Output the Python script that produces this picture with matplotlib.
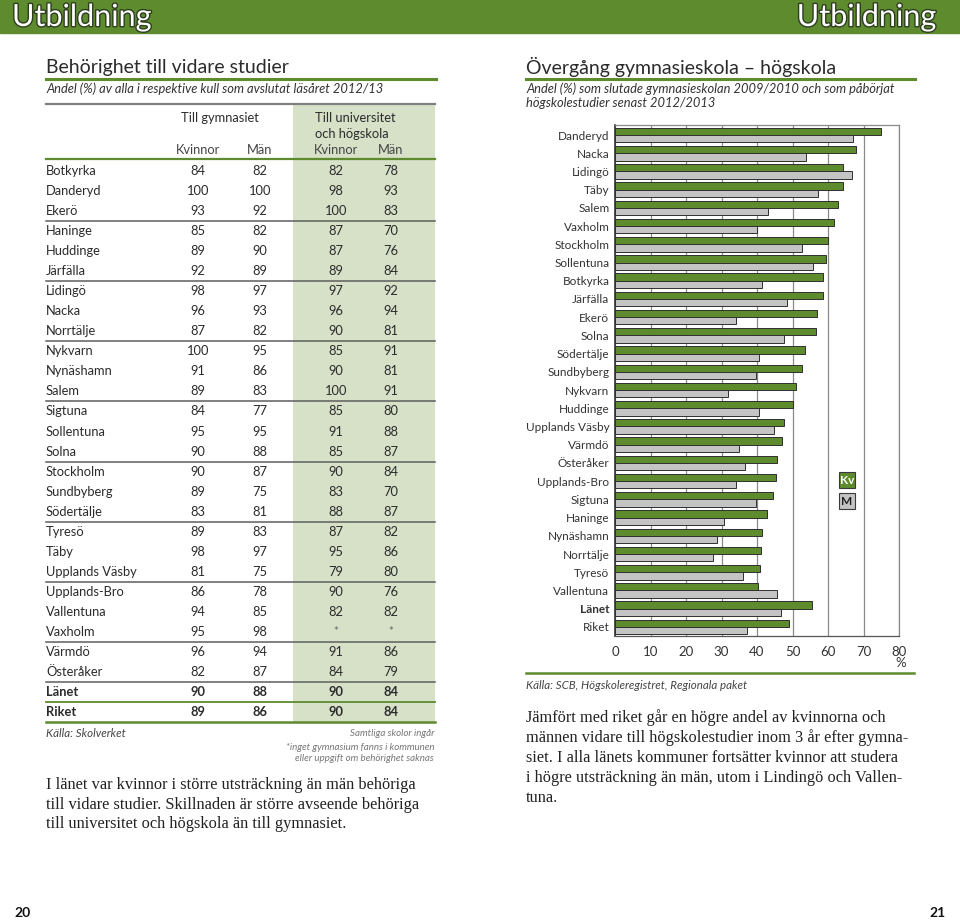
import matplotlib
matplotlib.use('Agg')
import matplotlib.pyplot as plt
import matplotlib.patheffects as pe
from matplotlib.patches import Rectangle
import numpy as np

plt.rcParams['font.family'] = ['Lato', 'DejaVu Sans']

GREEN = '#5d8b2e'
SHADE = '#d6e1c8'
GREY_BAR = '#c4c4c4'
TXT = '#2b2b2b'

# Table: behörighet till vidare studier (%)
kommuner = ['Botkyrka', 'Danderyd', 'Ekerö', 'Haninge', 'Huddinge', 'Järfälla', 'Lidingö',
            'Nacka', 'Norrtälje', 'Nykvarn', 'Nynäshamn', 'Salem', 'Sigtuna', 'Sollentuna',
            'Solna', 'Stockholm', 'Sundbyberg', 'Södertälje', 'Tyresö', 'Täby', 'Upplands Väsby',
            'Upplands-Bro', 'Vallentuna', 'Vaxholm', 'Värmdö', 'Österåker', 'Länet', 'Riket']
gym_kv = [84, 100, 93, 85, 89, 92, 98, 96, 87, 100, 91, 89, 84, 95, 90, 90, 89, 83, 89, 98, 81, 86, 94, 95, 96, 82, 90, 89]
gym_m = [82, 100, 92, 82, 90, 89, 97, 93, 82, 95, 86, 83, 77, 95, 88, 87, 75, 81, 83, 97, 75, 78, 85, 98, 94, 87, 88, 86]
uni_kv = [82, 98, 100, 87, 87, 89, 97, 96, 90, 85, 90, 100, 85, 91, 85, 90, 83, 88, 87, 95, 79, 90, 82, '*', 91, 84, 90, 90]
uni_m = [78, 93, 83, 70, 76, 84, 92, 94, 81, 91, 81, 91, 80, 88, 87, 84, 70, 87, 82, 86, 80, 76, 82, '*', 86, 79, 84, 84]

# Bar chart: övergång gymnasieskola - högskola (%)
bar_kommuner = ['Danderyd', 'Nacka', 'Lidingö', 'Täby', 'Salem', 'Vaxholm', 'Stockholm', 'Sollentuna',
                'Botkyrka', 'Järfälla', 'Ekerö', 'Solna', 'Södertälje', 'Sundbyberg', 'Nykvarn',
                'Huddinge', 'Upplands Väsby', 'Värmdö', 'Österåker', 'Upplands-Bro', 'Sigtuna',
                'Haninge', 'Nynäshamn', 'Norrtälje', 'Tyresö', 'Vallentuna', 'Länet', 'Riket']
kv_values = [74.9, 67.8, 64.3, 64.1, 62.7, 61.8, 60.1, 59.5, 58.7, 58.5, 56.8, 56.7, 53.6, 52.7,
             51.0, 50.0, 47.6, 47.1, 45.7, 45.4, 44.6, 42.9, 41.5, 41.2, 40.8, 40.2, 55.6, 49.1]
m_values = [67.1, 53.8, 66.9, 57.2, 43.1, 40.1, 52.7, 55.7, 41.4, 48.5, 34.1, 47.6, 40.6, 39.6,
            31.9, 40.7, 44.9, 34.8, 36.7, 34.0, 39.8, 30.7, 28.8, 27.6, 36.0, 45.7, 46.8, 37.1]

fig = plt.figure(figsize=(9.6, 9.21), dpi=100)

# page canvas in pixel coordinates
page = fig.add_axes([0, 0, 1, 1])
page.set_xlim(0, 960)
page.set_ylim(921, 0)
page.axis('off')

# header band
page.add_patch(Rectangle((0, 0), 960, 33, color=GREEN, zorder=1))
outline = [pe.withStroke(linewidth=2, foreground='#2e3d20')]
page.text(12, 17, 'Utbildning', color='white', fontsize=22, ha='left', va='center',
          path_effects=outline, zorder=2)
page.text(936, 17, 'Utbildning', color='white', fontsize=22, ha='right', va='center',
          path_effects=outline, zorder=2)

# ---- left: table ----
page.text(46, 67, 'Behörighet till vidare studier', fontsize=14, color=TXT, va='center')
page.plot([46, 436], [79, 79], color=GREEN, lw=2.2)
page.text(46, 89, 'Andel (%) av alla i respektive kull som avslutat läsåret 2012/13',
          fontsize=9.3, style='italic', color='#333', va='center')

page.add_patch(Rectangle((293, 104), 142, 618, color=SHADE, lw=0, zorder=0))
page.plot([46, 435], [104, 104], color='#808080', lw=1.6)

page.text(220, 118, 'Till gymnasiet', fontsize=9.3, color=TXT, ha='center', va='center')
page.text(315, 118, 'Till universitet', fontsize=9.3, color=TXT, ha='left', va='center')
page.text(315, 134, 'och högskola', fontsize=9.3, color=TXT, ha='left', va='center')
col_x = [198, 260, 336, 391]
for x, lab in zip(col_x, ['Kvinnor', 'Män', 'Kvinnor', 'Män']):
    page.text(x, 150, lab, fontsize=9.3, color='#444', ha='center', va='center')
page.plot([46, 435], [159, 159], color=GREEN, lw=1.6)

row0, step = 171, 20.04
for i, name in enumerate(kommuner):
    y = row0 + i * step
    bold = 'bold' if name in ('Länet', 'Riket') else 'normal'
    page.text(46, y, name, fontsize=9.3, color=TXT, va='center', weight=bold)
    for x, v in zip(col_x, [gym_kv[i], gym_m[i], uni_kv[i], uni_m[i]]):
        if v == '*':
            page.text(x, y, v, fontsize=8, color='#666', ha='center', va='center')
        else:
            page.text(x, y, str(v), fontsize=9.3, color=TXT, ha='center', va='center', weight=bold)

for i in [2, 5, 8, 11, 14, 17, 20, 23, 25]:
    y = row0 + i * step + 10
    page.plot([46, 435], [y, y], color='#5e5e5e', lw=1.1)
page.plot([46, 435], [row0 + 26 * step + 10] * 2, color=GREEN, lw=1.3)
page.plot([46, 435], [row0 + 27 * step + 10] * 2, color=GREEN, lw=1.8)

page.text(46, 733, 'Källa: Skolverket', fontsize=8.3, style='italic', color='#444', va='center')
page.text(434, 733, 'Samtliga skolor ingår', fontsize=7, style='italic', color='#777',
          ha='right', va='center')
page.text(434, 747, '*inget gymnasium fanns i kommunen', fontsize=7, style='italic', color='#777',
          ha='right', va='center')
page.text(434, 758, 'eller uppgift om behörighet saknas', fontsize=7, style='italic', color='#777',
          ha='right', va='center')

left_body = ['I länet var kvinnor i större utsträckning än män behöriga',
             'till vidare studier. Skillnaden är större avseende behöriga',
             'till universitet och högskola än till gymnasiet.']
for k, line in enumerate(left_body):
    page.text(46, 785 + k * 19.5, line, fontsize=11.8, family='Liberation Serif',
              color='#222', va='center')

# ---- right: bar chart ----
page.text(526, 67, 'Övergång gymnasieskola – högskola', fontsize=14, color=TXT, va='center')
page.plot([526, 915], [79, 79], color=GREEN, lw=2.2)
page.text(526, 89, 'Andel (%) som slutade gymnasieskolan 2009/2010 och som påbörjat',
          fontsize=9.3, style='italic', color='#333', va='center')
page.text(526, 103, 'högskolestudier senast 2012/2013',
          fontsize=9.3, style='italic', color='#333', va='center')

ax = fig.add_axes([615 / 960, 1 - 636 / 921, 284 / 960, 511 / 921])
ax.set_facecolor('none')
y = np.arange(len(bar_kommuner))
h = 0.40
ax.barh(y - h / 2, kv_values, height=h, color=GREEN, edgecolor='#2f2f2f', lw=0.7, zorder=3)
ax.barh(y + h / 2, m_values, height=h, color=GREY_BAR, edgecolor='#2f2f2f', lw=0.7, zorder=3)
ax.set_xlim(0, 80)
ax.set_ylim(27.5, -0.55)
ax.set_xticks(range(0, 81, 10))
ax.set_yticks(y)
ax.set_yticklabels(bar_kommuner)
for lab in ax.get_yticklabels():
    if lab.get_text() == 'Länet':
        lab.set_fontweight('bold')
ax.tick_params(axis='y', length=0, pad=4, labelsize=8.5, labelcolor='#333')
ax.tick_params(axis='x', length=0, pad=7, labelsize=9.5, labelcolor='#333')
ax.grid(axis='x', color='#8a8a8a', lw=0.9, zorder=0)
ax.spines['left'].set_color('#333')
ax.spines['left'].set_linewidth(1.2)
ax.spines['bottom'].set_color('#555')
ax.spines['top'].set_color('#8a8a8a')
ax.spines['right'].set_color('#8a8a8a')
for s in ['top', 'right', 'bottom']:
    ax.spines[s].set_linewidth(0.9)
ax.set_axisbelow(True)

page.text(901, 663, '%', fontsize=9.5, color='#333', ha='center', va='center')

# legend boxes
page.add_patch(Rectangle((839, 472), 16, 16, facecolor=GREEN, edgecolor='#3a3a3a', lw=0.8, zorder=4))
page.text(847, 480.5, 'Kv', fontsize=8.5, weight='bold', color='white', ha='center', va='center', zorder=5)
page.add_patch(Rectangle((839, 493), 16, 16, facecolor=GREY_BAR, edgecolor='#3a3a3a', lw=0.8, zorder=4))
page.text(847, 501.5, 'M', fontsize=8.5, weight='bold', color='#222', ha='center', va='center', zorder=5)

page.plot([526, 914], [673, 673], color=GREEN, lw=1.8)
page.text(526, 685, 'Källa: SCB, Högskoleregistret, Regionala paket', fontsize=8.3, style='italic',
          color='#444', va='center')

right_body = ['Jämfört med riket går en högre andel av kvinnorna och',
              'männen vidare till högskolestudier inom 3 år efter gymna-',
              'siet. I alla länets kommuner fortsätter kvinnor att studera',
              'i högre utsträckning än män, utom i Lindingö och Vallen-',
              'tuna.']
for k, line in enumerate(right_body):
    page.text(526, 718 + k * 20, line, fontsize=11.8, family='Liberation Serif',
              color='#222', va='center')

# page numbers
page.text(14, 913, '20', fontsize=10, weight='bold', color='#111', va='center')
page.text(946, 913, '21', fontsize=10, weight='bold', color='#111', ha='right', va='center')

fig.savefig('out.png', dpi=100)
